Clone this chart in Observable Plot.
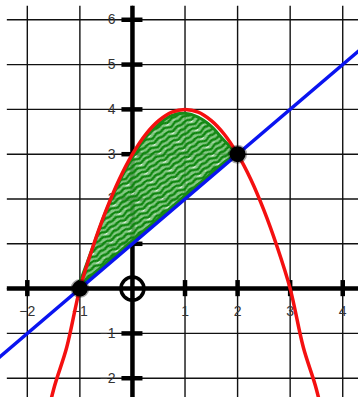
<!DOCTYPE html>
<html><head><meta charset="utf-8">
<script src="https://cdn.jsdelivr.net/npm/d3@7"></script>
<script src="https://cdn.jsdelivr.net/npm/@observablehq/plot@0.6"></script>
<style>html,body{margin:0;padding:0;background:#fff;overflow:hidden}</style>
</head><body><div id="chart"></div>
<script>
// Red parabola, points
const curveX = [-1.75,-1.5,-1.25,-1,-0.75,-0.5,-0.25,0,0.25,0.5,0.75,1,1.25,1.5,1.75,2,2.25,2.5,2.75,3,3.25,3.5,3.75];
const curveY = [-3.56,-2.25,-1.31,0,0.94,1.75,2.44,3,3.44,3.75,3.94,4,3.94,3.75,3.44,3,2.44,1.75,0.94,0,-1.31,-2.25,-3.56];
// Blue line
const lineX = [-2.6, 4.4];
const lineY = [-1.6, 5.4];
// Green shaded region between the curves
const shadeX = [-1,-0.75,-0.5,-0.25,0,0.25,0.5,0.75,1,1.25,1.5,1.75,2];
const shadeTop = [0.1,0.9,1.7,2.35,2.9,3.35,3.65,3.85,3.9,3.82,3.62,3.3,3];
const shadeBottom = [0.05,0.3,0.55,0.8,1.05,1.3,1.55,1.8,2.05,2.3,2.55,2.8,3];
// Points
const solidX = [-1, 2];
const solidY = [0, 3];
const openX = [0];
const openY = [0];
// Ticks
const xTicks = [-2,-1,1,2,3,4];
const yTicks = [-2,-1,1,2,3,4,5,6];
const gridX = [-2,-1,0,1,2,3,4];
const gridY = [-2,-1,0,1,2,3,4,5,6];

const curve = curveX.map((x,i)=>({x, y: curveY[i]}));
const line = lineX.map((x,i)=>({x, y: lineY[i]}));
const shade = shadeX.map((x,i)=>({x, top: shadeTop[i], bottom: shadeBottom[i]}));
const solid = solidX.map((x,i)=>({x, y: solidY[i]}));
const open = openX.map((x,i)=>({x, y: openY[i]}));

const labelColor = "#333";
const font = "Arial, 'Liberation Sans', sans-serif";
const fmt = d => d < 0 ? "\u2212" + (-d) : String(d);

const chart = Plot.plot({
  width: 358, height: 397,
  margin: 0,
  x: {domain: [-2.51, 4.30], axis: null},
  y: {domain: [-2.43, 6.43], axis: null},
  style: {background: "#fff", fontFamily: font, overflow: "hidden"},
  marks: [
    Plot.ruleX(gridX, {x: d=>d, y1: -2.43, y2: 6.3, stroke: "#111", strokeWidth: 1.4}),
    Plot.ruleY(gridY, {y: d=>d, x1: -2.38, x2: 4.3, stroke: "#111", strokeWidth: 1.4}),
    Plot.ruleY([0], {x1: -2.38, x2: 4.3, stroke: "#000", strokeWidth: 4.5}),
    Plot.ruleX([0], {y1: -2.43, y2: 6.3, stroke: "#000", strokeWidth: 4.5}),
    Plot.ruleX(xTicks, {x: d=>d, y1: -0.18, y2: 0.18, stroke: "#000", strokeWidth: 4.5}),
    Plot.ruleY(yTicks, {y: d=>d, x1: -0.2, x2: 0.2, stroke: "#000", strokeWidth: 4.5}),
    Plot.text(xTicks, {x: d=>d, y: 0, text: fmt, dy: 23, fontSize: 14, fill: labelColor}),
    Plot.text(yTicks, {x: 0, y: d=>d, text: fmt, dx: -17, textAnchor: "end", fontSize: 14, fill: labelColor}),
    Plot.areaY(shade, {x: "x", y1: "bottom", y2: "top", curve: "catmull-rom", fill: "url(#scribble)", stroke: "#178a17", strokeWidth: 3}),
    Plot.line(line, {x: "x", y: "y", stroke: "#0a14f0", strokeWidth: 3.5, clip: true}),
    Plot.line(curve, {x: "x", y: "y", curve: "catmull-rom", stroke: "#f41010", strokeWidth: 3.5, clip: true}),
    Plot.dot(solid, {x: "x", y: "y", r: 8, fill: "#000", stroke: "rgba(0,0,0,0.35)", strokeWidth: 3}),
    Plot.dot(open, {x: "x", y: "y", r: 11.5, fill: "none", stroke: "#000", strokeWidth: 3.5})
  ]
});

const ns = "http://www.w3.org/2000/svg";
const defs = document.createElementNS(ns, "defs");
defs.innerHTML = `<pattern id="scribble" patternUnits="userSpaceOnUse" width="22" height="10" patternTransform="rotate(-32)">
  <rect width="22" height="10" fill="rgba(110,190,110,0.85)"/>
  <path d="M0,2 L6,0.5 L11,3 L17,1 L22,2" fill="none" stroke="#0d850d" stroke-width="2.4"/>
  <path d="M0,7 L5,5.5 L12,8.5 L18,6 L22,7" fill="none" stroke="#0d850d" stroke-width="2.4"/>
  <path d="M7,4.6 L12.5,4 L10.5,5.6 Z" fill="#fff"/>
  <path d="M16,3.8 L19,3.5 L18,4.6 Z" fill="#f2fbf2"/>
</pattern>`;
chart.insertBefore(defs, chart.firstChild);
document.getElementById("chart").appendChild(chart);
</script>
</body></html>
